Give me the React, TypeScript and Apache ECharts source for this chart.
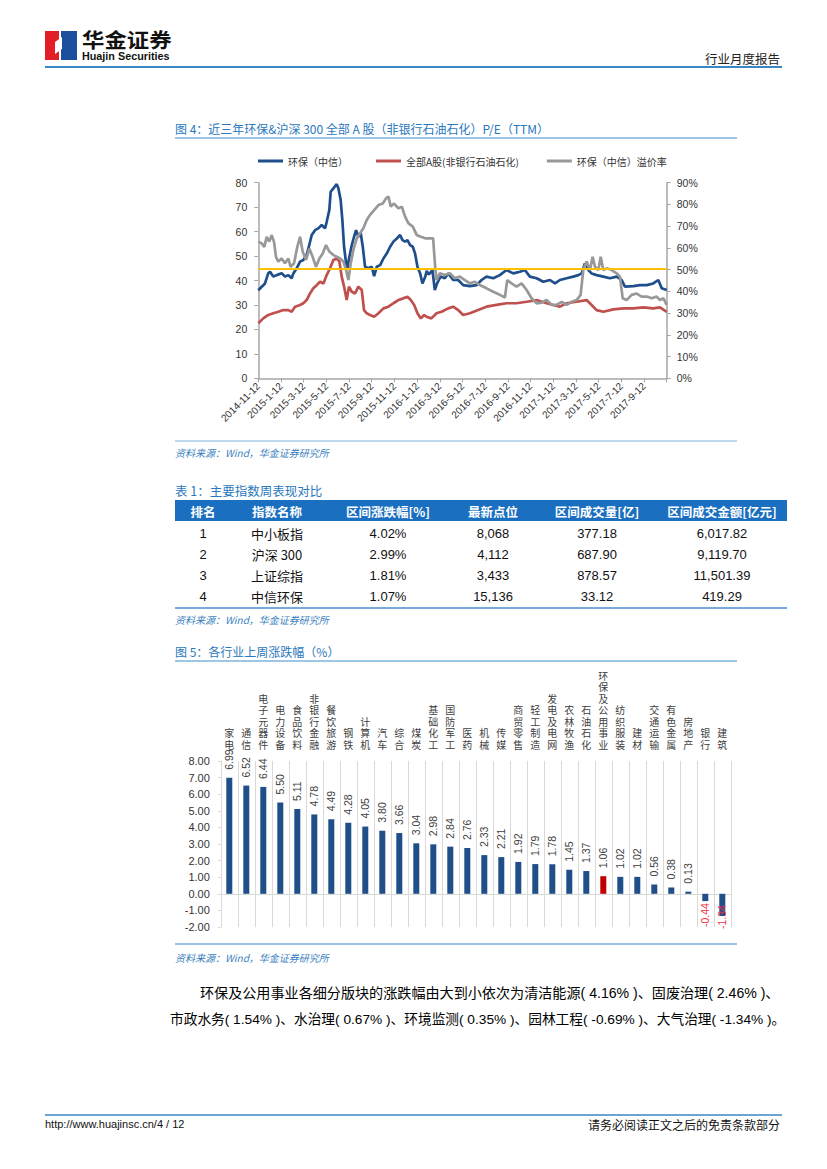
import React, { useEffect, useRef } from "react";
import * as echarts from "echarts";

const FONT = '"Liberation Sans", "Noto Sans CJK SC", sans-serif';
const CJK = '"Noto Sans CJK SC", "Liberation Sans", sans-serif';

// ---------- Figure 4 data (x = months after 2014-11-12) ----------
const PE_START_YEAR = 2014;
const PE_START_MONTH = 11;
const PE_LABEL_DAY = 12;
const peSeriesNames = ["环保（中信）", "全部A股(非银行石油石化)", "环保（中信）溢价率"];

const envMonths = [
  0, 0.59, 0.88, 1.03, 1.32, 1.62, 2.06, 2.35, 2.65, 2.94,
  3.09, 3.38, 3.68, 3.97, 4.26, 4.41, 4.71, 5.0, 5.29, 5.59,
  5.88, 6.03, 6.26, 6.38, 6.62, 6.91, 7.06, 7.26, 7.41, 7.56,
  7.74, 7.85, 8.03, 8.24, 8.44, 8.62, 8.82, 9.03, 9.21, 9.41,
  9.71, 10.0, 10.21, 10.44, 10.74, 11.03, 11.32, 11.62, 11.91, 12.21,
  12.5, 12.71, 12.94, 13.15, 13.38, 13.62, 13.82, 14.03, 14.26, 14.47,
  14.71, 14.85, 15.0, 15.12, 15.35, 15.56, 15.76, 16.06, 16.44, 16.74,
  17.18, 17.62, 18.06, 18.65, 19.24, 19.68, 20.12, 20.71, 21.29, 21.88,
  22.47, 23.06, 23.5, 23.94, 24.53, 25.12, 25.71, 26.15, 26.59, 27.18,
  27.76, 28.21, 28.5, 28.79, 29.09, 29.38, 29.82, 30.41, 31.0, 31.59,
  32.03, 32.32, 33.06, 33.65, 34.24, 34.82, 35.26, 35.56, 36.0,
];
const envPE = [
  36, 38.8, 43, 43.6, 41.6, 42.2, 43, 41.6, 42.2, 40.9,
  42.9, 45, 47.7, 48.4, 50.4, 53, 58.6, 60.6, 61.3, 62.7,
  61.3, 64, 68.8, 76.3, 77.7, 79.4, 77.7, 72.9, 64.7, 53.8,
  47, 45, 49.7, 54.5, 57.9, 60.6, 57.9, 59.3, 53.8, 45.6,
  45, 45.6, 41.8, 45.6, 46.3, 49, 51, 53.8, 55.9, 57.2,
  58.6, 56.5, 55.9, 56.5, 54.5, 53.8, 51, 45.6, 43, 38.8,
  41.5, 44, 42.5, 42.9, 44.3, 36.1, 38.8, 41.6, 40.9, 42.9,
  40.2, 40.2, 38.1, 37.7, 38.1, 40.2, 41.6, 40.9, 42.2, 44.3,
  42.9, 43.6, 44.3, 41.6, 40.9, 39.5, 40.2, 38.8, 40.2, 40.9,
  41.6, 42.2, 42.9, 47, 44.3, 42.9, 42.2, 41.6, 40.9, 41.6,
  40.2, 37.5, 37.7, 38.1, 38.1, 38.8, 40.2, 36.8, 36.1,
];

const allAMonths = [
  0, 0.44, 0.88, 1.32, 1.76, 2.21, 2.65, 2.94, 3.24, 3.68,
  3.97, 4.26, 4.56, 4.85, 5.15, 5.44, 5.74, 6.03, 6.32, 6.62,
  6.91, 7.15, 7.35, 7.56, 7.79, 7.99, 8.24, 8.53, 8.82, 9.12,
  9.32, 9.56, 9.85, 10.21, 10.59, 11.03, 11.47, 11.91, 12.35, 12.79,
  13.15, 13.44, 13.74, 14.03, 14.32, 14.62, 14.82, 15.26, 15.71, 16.15,
  16.74, 17.18, 17.62, 18.06, 18.65, 19.38, 20.12, 21.0, 21.88, 22.76,
  23.65, 24.53, 25.41, 26.0, 26.59, 27.18, 28.06, 28.94, 29.38, 29.82,
  30.41, 31.29, 32.18, 33.06, 33.94, 34.82, 35.41, 36.0,
];
const allAPE = [
  22.5, 24.5, 25.9, 26.6, 27.2, 27.9, 27.9, 27.2, 29.3, 30,
  30.7, 32, 34.7, 36.8, 38.1, 39.5, 38.8, 42.2, 45, 48.4,
  49, 47.7, 41.6, 37.5, 32, 37.5, 35.4, 34.7, 37.5, 36.1,
  27.9, 26.6, 25.9, 25.2, 26.6, 28.6, 29.3, 30.7, 32, 32.7,
  33.4, 32, 30, 26.6, 24.5, 25.9, 25.2, 24.5, 26.6, 27.2,
  28.6, 29.3, 27.9, 25.9, 26.6, 27.9, 29.3, 30, 30.7, 30.7,
  31.3, 32, 30.7, 30, 29.3, 30.7, 31.3, 32, 30, 27.9,
  27.2, 28.2, 28.6, 28.6, 29, 28.6, 29, 27.2,
];

const premiumMonths = [
  0, 0.29, 0.53, 0.74, 0.97, 1.18, 1.38, 1.56, 1.76, 2.06,
  2.35, 2.65, 2.85, 3.15, 3.44, 3.68, 3.91, 4.21, 4.5, 4.79,
  5.09, 5.38, 5.68, 5.97, 6.26, 6.62, 6.91, 7.21, 7.5, 7.74,
  7.94, 8.15, 8.38, 8.68, 8.97, 9.26, 9.56, 9.85, 10.21, 10.59,
  10.97, 11.26, 11.47, 11.68, 11.97, 12.35, 12.65, 12.94, 13.24, 13.62,
  13.97, 14.32, 14.71, 15.0, 15.41, 15.59, 15.71, 16.0, 16.44, 16.88,
  17.32, 17.76, 18.21, 18.65, 19.09, 19.53, 20.12, 20.71, 21.29, 21.74,
  21.94, 22.32, 22.76, 23.21, 23.65, 24.09, 24.53, 24.97, 25.41, 25.85,
  26.29, 26.74, 27.18, 27.62, 28.06, 28.41, 28.65, 28.94, 29.24, 29.47,
  29.68, 29.97, 30.18, 30.41, 30.71, 31.15, 31.59, 31.88, 32.12, 32.47,
  32.91, 33.35, 33.79, 34.24, 34.68, 35.12, 35.41, 35.71, 36.0,
];
const premiumPct = [
  62.9, 62.1, 60.5, 65.1, 62.9, 65.9, 62.9, 55.9, 53.7, 55.1,
  52.9, 55.1, 51.3, 52.9, 60.5, 65.1, 58.3, 54.5, 59.7, 55.9,
  51.3, 55.1, 57.4, 61.3, 58.3, 56.7, 55.9, 55.1, 53.7, 49.8,
  45.2, 52.9, 59.1, 64.4, 66.7, 69, 72.8, 75.2, 77.4, 79.7,
  80.4, 82.8, 83.6, 79, 80.4, 78.2, 79, 74.4, 71.3, 69.8,
  65.9, 65.1, 64.4, 64.4, 64.4, 51.3, 45.2, 48.3, 47.5, 48.3,
  46, 46.8, 45.2, 43.7, 44.4, 42.9, 41.4, 39.8, 38.4, 37.2,
  45.2, 43.7, 42.2, 43.7, 40.6, 36.8, 34.5, 34.8, 36, 33.8,
  33.8, 35.2, 33.8, 35.2, 36, 38.4, 49.8, 53.7, 49.8, 55.9,
  51.3, 49.8, 55.9, 49.8, 50.6, 49.8, 48.3, 46.8, 36.8, 36,
  38.4, 39, 37.6, 37.6, 36.8, 37.6, 36, 36.8, 33.8,
];
const premiumAverage = 50.3;

// ---------- Table 1 data ----------
const tableHeaders = ["排名", "指数名称", "区间涨跌幅[%]", "最新点位", "区间成交量[亿]", "区间成交金额[亿元]"];
const tableRanks = ["1", "2", "3", "4"];
const tableNames = ["中小板指", "沪深 300", "上证综指", "中信环保"];
const tableChange = ["4.02%", "2.99%", "1.81%", "1.07%"];
const tableLatest = ["8,068", "4,112", "3,433", "15,136"];
const tableVolume = ["377.18", "687.90", "878.57", "33.12"];
const tableAmount = ["6,017.82", "9,119.70", "11,501.39", "419.29"];

// ---------- Figure 5 data ----------
const industries = [
  "家电", "通信", "电子元器件", "电力设备", "食品饮料", "非银行金融", "餐饮旅游", "钢铁", "计算机", "汽车",
  "综合", "煤炭", "基础化工", "国防军工", "医药", "机械", "传媒", "商贸零售", "轻工制造", "发电及电网",
  "农林牧渔", "石油石化", "环保及公用事业", "纺织服装", "建材", "交通运输", "有色金属", "房地产", "银行", "建筑",
];
const weeklyChange = [
  6.99, 6.52, 6.44, 5.5, 5.11, 4.78, 4.49, 4.28, 4.05, 3.8,
  3.66, 3.04, 2.98, 2.84, 2.76, 2.33, 2.21, 1.92, 1.79, 1.78,
  1.45, 1.37, 1.06, 1.02, 1.02, 0.56, 0.38, 0.13, -0.44, -1.34,
];
const highlightIndustry = "环保及公用事业";

// ---------- page texts ----------
const fig4Title = "图 4：近三年环保&沪深 300 全部 A 股（非银行石油石化）P/E（TTM）";
const table1Title = "表 1：主要指数周表现对比";
const fig5Title = "图 5：各行业上周涨跌幅（%）";
const sourceText = "资料来源：Wind，华金证券研究所";
const paraLine1 = "环保及公用事业各细分版块的涨跌幅由大到小依次为清洁能源( 4.16% )、固废治理( 2.46% )、";
const paraLine2 = "市政水务( 1.54% )、水治理( 0.67% )、环境监测( 0.35% )、园林工程( -0.69% )、大气治理( -1.34% )。";

const BLUE_TITLE = "#2a78bd";
const BLUE_LINE = "#3f8fcc";
const SRC_BLUE = "#3a7fc0";

function txt(text: string, x: number, y: number, o: any = {}) {
  const size = o.size ?? 12;
  const weight = o.weight ?? "normal";
  const fstyle = o.fstyle ?? "normal";
  const family = o.family ?? FONT;
  const align = o.align ?? "left";
  const valign = o.valign ?? "middle";
  const el: any = {
    type: "text",
    x,
    y,
    silent: true,
    style: {
      text,
      fill: o.color ?? "#000",
      font: `${fstyle} ${weight} ${size}px ${family}`,
      align,
      verticalAlign: valign,
      textAlign: align,
      textVerticalAlign: valign,
    },
  };
  if (o.scaleX) el.scaleX = o.scaleX;
  if (o.scaleY) el.scaleY = o.scaleY;
  return el;
}

function hline(x1: number, x2: number, y: number, color: string, w = 1) {
  return { type: "line", silent: true, shape: { x1, y1: y, x2, y2: y }, style: { stroke: color, lineWidth: w } };
}

function monthLabel(m: number) {
  const total = PE_START_MONTH - 1 + m;
  const y = PE_START_YEAR + Math.floor(total / 12);
  const mo = (total % 12) + 1;
  return `${y}-${mo}-${PE_LABEL_DAY}`;
}

function pairs(xs: number[], ys: number[]) {
  return xs.map((x, i) => [x, ys[i]]);
}

function buildOption() {
  const graphics: any[] = [];

  // header logo
  graphics.push({ type: "rect", silent: true, shape: { x: 45, y: 31, width: 14, height: 29 }, style: { fill: "#e21f26" } });
  graphics.push({ type: "rect", silent: true, shape: { x: 61, y: 31, width: 16, height: 29 }, style: { fill: "#1c4f9c" } });
  graphics.push({ type: "polygon", silent: true, shape: { points: [[55, 42], [62, 37], [62, 49], [55, 54]] }, style: { fill: "#fff" } });
  graphics.push(txt("华金证券", 82, 39, { size: 20, weight: "bold", family: CJK, color: "#111", scaleX: 1.12 }));
  graphics.push(txt("Huajin Securities", 82, 57, { size: 10, weight: "bold", color: "#111", scaleX: 1.08 }));
  graphics.push(txt("行业月度报告", 780, 58, { size: 12.5, align: "right", family: CJK, color: "#222" }));
  graphics.push(hline(45, 782, 67, "#3a87c5", 2));

  // figure 4 title
  graphics.push(txt(fig4Title, 175, 128, { size: 12, family: CJK, color: BLUE_TITLE }));
  graphics.push(hline(175, 737, 138, BLUE_LINE, 1.2));
  graphics.push(hline(175, 737, 441, "#7fb0da", 1));
  graphics.push(txt(sourceText, 175, 452, { size: 10, fstyle: "italic", family: CJK, color: SRC_BLUE }));

  // table 1
  graphics.push(txt(table1Title, 175, 490, { size: 12.5, family: CJK, color: BLUE_TITLE }));
  graphics.push({ type: "rect", silent: true, shape: { x: 175, y: 500, width: 612, height: 21 }, style: { fill: "#1b6fc0" } });
  const colX = [203, 277, 388, 493, 597, 722];
  tableHeaders.forEach((h, i) => graphics.push(txt(h, colX[i], 511, { size: 12.5, weight: "bold", align: "center", family: CJK, color: "#fff" })));
  const rowY = [533, 554, 575, 596];
  const cols = [tableRanks, tableNames, tableChange, tableLatest, tableVolume, tableAmount];
  cols.forEach((col, ci) => col.forEach((v, ri) => graphics.push(txt(v, colX[ci], rowY[ri], { size: 13, align: "center", family: ci === 1 ? CJK : FONT, color: "#111" }))));
  graphics.push(hline(175, 787, 608, "#4a8fcf", 1.5));
  graphics.push(txt(sourceText, 175, 619, { size: 10, fstyle: "italic", family: CJK, color: SRC_BLUE }));

  // figure 5 title
  graphics.push(txt(fig5Title, 175, 651, { size: 12, family: CJK, color: BLUE_TITLE }));
  graphics.push(hline(175, 737, 661, BLUE_LINE, 1.2));
  graphics.push(hline(175, 737, 944, "#7fb0da", 1.5));
  graphics.push(txt(sourceText, 175, 957, { size: 10, fstyle: "italic", family: CJK, color: SRC_BLUE }));

  // paragraph
  graphics.push(txt(paraLine1, 200, 993, { size: 14.1, family: FONT, color: "#000" }));
  graphics.push(txt(paraLine2, 170, 1019, { size: 13.7, family: FONT, color: "#000" }));

  // footer
  graphics.push(hline(45, 782, 1115, "#3a87c5", 1.5));
  graphics.push(txt("http://www.huajinsc.cn/4 / 12", 45, 1124, { size: 11, color: "#111" }));
  graphics.push(txt("请务必阅读正文之后的免责条款部分", 780, 1124, { size: 12, align: "right", family: CJK, color: "#111" }));

  const axisGray = "#a6a6a6";
  const lightGray = "#d9d9d9";

  return {
    animation: false,
    backgroundColor: "#fff",
    textStyle: { fontFamily: FONT },
    graphic: graphics,
    legend: {
      data: peSeriesNames,
      left: 253,
      top: 151,
      icon: "rect",
      itemWidth: 25,
      itemHeight: 3,
      itemGap: 28,
      textStyle: { fontSize: 10, color: "#333", fontFamily: CJK },
    },
    grid: [
      { left: 258.3, top: 182.7, width: 408.4, height: 195.6 },
      { left: 220.8, top: 761, width: 510, height: 166 },
    ],
    xAxis: [
      {
        type: "value",
        gridIndex: 0,
        min: 0,
        max: 36,
        interval: 2,
        axisLine: { show: true, lineStyle: { color: axisGray, width: 1.5 } },
        axisTick: { show: true, length: 4, lineStyle: { color: axisGray } },
        splitLine: { show: false },
        axisLabel: {
          rotate: 45,
          fontSize: 10,
          color: "#333",
          margin: 6,
          formatter: (v: number) => (v >= 35 ? "" : monthLabel(v)),
        },
      },
      {
        type: "category",
        gridIndex: 1,
        data: industries,
        position: "bottom",
        axisLine: { show: true, onZero: true, lineStyle: { color: lightGray } },
        axisTick: { show: false },
        axisLabel: { show: false, interval: 0 },
        splitLine: { show: true, interval: 0, lineStyle: { color: lightGray } },
      },
      {
        type: "category",
        gridIndex: 1,
        data: industries,
        position: "top",
        axisLine: { show: false, onZero: false },
        axisTick: { show: false },
        splitLine: { show: false },
        axisLabel: {
          interval: 0,
          fontSize: 10,
          lineHeight: 11.5,
          color: "#404040",
          margin: 10,
          fontFamily: FONT,
          formatter: (s: string) => s.split("").join("\n"),
        },
      },
    ],
    yAxis: [
      {
        type: "value",
        gridIndex: 0,
        min: 0,
        max: 80,
        interval: 10,
        position: "left",
        axisLine: { show: true, lineStyle: { color: axisGray, width: 1.5 } },
        axisTick: { show: true, length: 4, lineStyle: { color: axisGray } },
        splitLine: { show: false },
        axisLabel: { fontSize: 10.5, color: "#333", margin: 11 },
      },
      {
        type: "value",
        gridIndex: 0,
        min: 0,
        max: 90,
        interval: 10,
        position: "right",
        axisLine: { show: true, lineStyle: { color: axisGray, width: 1.5 } },
        axisTick: { show: true, length: 4, lineStyle: { color: axisGray } },
        splitLine: { show: false },
        axisLabel: { fontSize: 10.5, color: "#333", margin: 10, formatter: "{value}%" },
      },
      {
        type: "value",
        gridIndex: 1,
        min: -2,
        max: 8,
        interval: 1,
        axisLine: { show: true, lineStyle: { color: lightGray } },
        axisTick: { show: true, length: 3, lineStyle: { color: lightGray } },
        splitLine: { show: false },
        axisLabel: { fontSize: 11, color: "#333", margin: 11, formatter: (v: number) => v.toFixed(2) },
      },
    ],
    series: [
      {
        name: peSeriesNames[0],
        type: "line",
        xAxisIndex: 0,
        yAxisIndex: 0,
        data: pairs(envMonths, envPE),
        showSymbol: false,
        symbol: "none",
        lineStyle: { color: "#1f4e8c", width: 2.7 },
        itemStyle: { color: "#1f4e8c" },
      },
      {
        name: peSeriesNames[1],
        type: "line",
        xAxisIndex: 0,
        yAxisIndex: 0,
        data: pairs(allAMonths, allAPE),
        showSymbol: false,
        symbol: "none",
        lineStyle: { color: "#c0504d", width: 2.7 },
        itemStyle: { color: "#c0504d" },
      },
      {
        name: peSeriesNames[2],
        type: "line",
        xAxisIndex: 0,
        yAxisIndex: 1,
        data: pairs(premiumMonths, premiumPct),
        showSymbol: false,
        symbol: "none",
        lineStyle: { color: "#989898", width: 2.7 },
        itemStyle: { color: "#989898" },
        markLine: {
          silent: true,
          symbol: "none",
          label: { show: false },
          lineStyle: { color: "#ffc000", width: 2, type: "solid" },
          data: [{ yAxis: premiumAverage }],
        },
      },
      {
        type: "bar",
        xAxisIndex: 1,
        yAxisIndex: 2,
        barWidth: 6,
        data: weeklyChange.map((v, i) => {
          const item: any = {
            value: v,
            itemStyle: { color: industries[i] === highlightIndustry ? "#c00000" : "#1f4e89" },
          };
          if (v < 0) {
            item.label = {
              position: "bottom",
              align: "right",
              color: "#e8313f",
              distance: v < -1 ? -11 : 2,
            };
          }
          return item;
        }),
        label: {
          show: true,
          position: "top",
          rotate: 90,
          align: "left",
          verticalAlign: "middle",
          distance: 8,
          fontSize: 10.5,
          color: "#404040",
          formatter: (p: any) => Number(p.value).toFixed(2),
        },
      },
    ],
  };
}

export default function App() {
  const ref = useRef<HTMLDivElement>(null);
  useEffect(() => {
    if (!ref.current) return;
    const chart = echarts.init(ref.current, null, { renderer: "svg", width: 827, height: 1169 });
    chart.setOption(buildOption() as any);
    return () => chart.dispose();
  }, []);
  return (
    <div
      ref={ref}
      style={{ position: "absolute", left: 0, top: 0, width: 827, height: 1169, background: "#fff" }}
    />
  );
}
